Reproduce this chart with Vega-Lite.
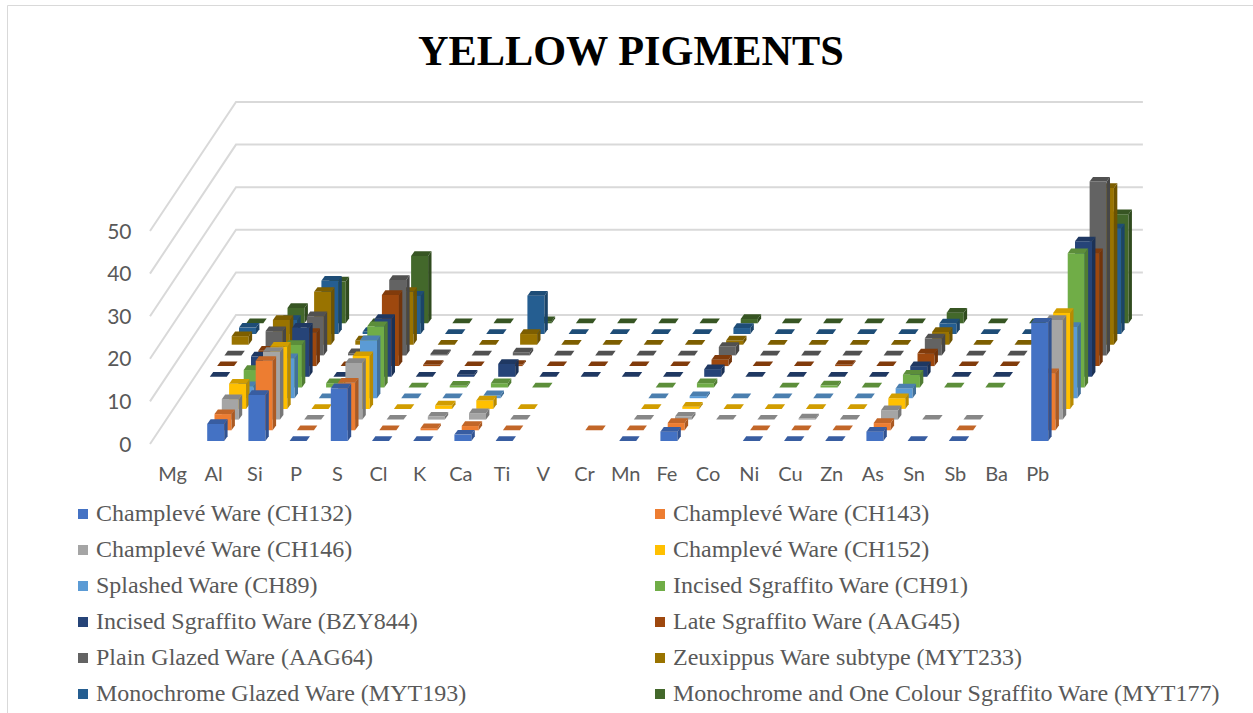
{"$schema":"https://vega.github.io/schema/vega-lite/v6.json","width":1250,"height":712,"padding":{"left":7,"top":5,"right":0,"bottom":0},"autosize":{"type":"none"},"background":"white","view":{"stroke":"#D9D9D9","strokeWidth":1},
"title":{"text":"YELLOW PIGMENTS","font":"Liberation Serif","fontSize":42.3,"fontWeight":"bold","color":"#000000","anchor":"start","dx":411,"dy":73},
"data":{"name":"bars"},
"datasets":{"bars":[
{"ware":"Monochrome and One Colour Sgraffito Ware (MYT177)","element":"Mg","value":0},{"ware":"Monochrome and One Colour Sgraffito Ware (MYT177)","element":"Al","value":3.6},{"ware":"Monochrome and One Colour Sgraffito Ware (MYT177)","element":"Si","value":9.8},{"ware":"Monochrome and One Colour Sgraffito Ware (MYT177)","element":"P","value":0},{"ware":"Monochrome and One Colour Sgraffito Ware (MYT177)","element":"S","value":15.8},{"ware":"Monochrome and One Colour Sgraffito Ware (MYT177)","element":"Cl","value":0},{"ware":"Monochrome and One Colour Sgraffito Ware (MYT177)","element":"K","value":0},{"ware":"Monochrome and One Colour Sgraffito Ware (MYT177)","element":"Ca","value":0.5},{"ware":"Monochrome and One Colour Sgraffito Ware (MYT177)","element":"Ti","value":0},{"ware":"Monochrome and One Colour Sgraffito Ware (MYT177)","element":"V","value":0},{"ware":"Monochrome and One Colour Sgraffito Ware (MYT177)","element":"Cr","value":0},{"ware":"Monochrome and One Colour Sgraffito Ware (MYT177)","element":"Mn","value":0},{"ware":"Monochrome and One Colour Sgraffito Ware (MYT177)","element":"Fe","value":1},{"ware":"Monochrome and One Colour Sgraffito Ware (MYT177)","element":"Co","value":0},{"ware":"Monochrome and One Colour Sgraffito Ware (MYT177)","element":"Ni","value":0},{"ware":"Monochrome and One Colour Sgraffito Ware (MYT177)","element":"Cu","value":0},{"ware":"Monochrome and One Colour Sgraffito Ware (MYT177)","element":"Zn","value":0},{"ware":"Monochrome and One Colour Sgraffito Ware (MYT177)","element":"As","value":2.5},{"ware":"Monochrome and One Colour Sgraffito Ware (MYT177)","element":"Sn","value":0},{"ware":"Monochrome and One Colour Sgraffito Ware (MYT177)","element":"Sb","value":0},{"ware":"Monochrome and One Colour Sgraffito Ware (MYT177)","element":"Pb","value":25.6},
{"ware":"Monochrome Glazed Ware (MYT193)","element":"Mg","value":1.5},{"ware":"Monochrome Glazed Ware (MYT193)","element":"Al","value":3.3},{"ware":"Monochrome Glazed Ware (MYT193)","element":"Si","value":12.5},{"ware":"Monochrome Glazed Ware (MYT193)","element":"P","value":0.5},{"ware":"Monochrome Glazed Ware (MYT193)","element":"S","value":9},{"ware":"Monochrome Glazed Ware (MYT193)","element":"Cl","value":0},{"ware":"Monochrome Glazed Ware (MYT193)","element":"K","value":0},{"ware":"Monochrome Glazed Ware (MYT193)","element":"Ca","value":9},{"ware":"Monochrome Glazed Ware (MYT193)","element":"Ti","value":0},{"ware":"Monochrome Glazed Ware (MYT193)","element":"V","value":0},{"ware":"Monochrome Glazed Ware (MYT193)","element":"Cr","value":0},{"ware":"Monochrome Glazed Ware (MYT193)","element":"Mn","value":0},{"ware":"Monochrome Glazed Ware (MYT193)","element":"Fe","value":1.4},{"ware":"Monochrome Glazed Ware (MYT193)","element":"Co","value":0},{"ware":"Monochrome Glazed Ware (MYT193)","element":"Ni","value":0},{"ware":"Monochrome Glazed Ware (MYT193)","element":"Cu","value":0},{"ware":"Monochrome Glazed Ware (MYT193)","element":"Zn","value":0},{"ware":"Monochrome Glazed Ware (MYT193)","element":"As","value":2.5},{"ware":"Monochrome Glazed Ware (MYT193)","element":"Sn","value":0},{"ware":"Monochrome Glazed Ware (MYT193)","element":"Sb","value":0},{"ware":"Monochrome Glazed Ware (MYT193)","element":"Pb","value":24.8},
{"ware":"Zeuxippus Ware subtype (MYT233)","element":"Mg","value":2},{"ware":"Zeuxippus Ware subtype (MYT233)","element":"Al","value":5.8},{"ware":"Zeuxippus Ware subtype (MYT233)","element":"Si","value":12.4},{"ware":"Zeuxippus Ware subtype (MYT233)","element":"P","value":1},{"ware":"Zeuxippus Ware subtype (MYT233)","element":"S","value":12.4},{"ware":"Zeuxippus Ware subtype (MYT233)","element":"Cl","value":0},{"ware":"Zeuxippus Ware subtype (MYT233)","element":"K","value":0},{"ware":"Zeuxippus Ware subtype (MYT233)","element":"Ca","value":2.5},{"ware":"Zeuxippus Ware subtype (MYT233)","element":"Ti","value":0},{"ware":"Zeuxippus Ware subtype (MYT233)","element":"V","value":0},{"ware":"Zeuxippus Ware subtype (MYT233)","element":"Cr","value":0},{"ware":"Zeuxippus Ware subtype (MYT233)","element":"Mn","value":0},{"ware":"Zeuxippus Ware subtype (MYT233)","element":"Fe","value":1},{"ware":"Zeuxippus Ware subtype (MYT233)","element":"Co","value":0},{"ware":"Zeuxippus Ware subtype (MYT233)","element":"Ni","value":0},{"ware":"Zeuxippus Ware subtype (MYT233)","element":"Cu","value":0},{"ware":"Zeuxippus Ware subtype (MYT233)","element":"Zn","value":0},{"ware":"Zeuxippus Ware subtype (MYT233)","element":"As","value":3},{"ware":"Zeuxippus Ware subtype (MYT233)","element":"Sn","value":0},{"ware":"Zeuxippus Ware subtype (MYT233)","element":"Sb","value":0},{"ware":"Zeuxippus Ware subtype (MYT233)","element":"Pb","value":36.8},
{"ware":"Plain Glazed Ware (AAG64)","element":"Mg","value":0},{"ware":"Plain Glazed Ware (AAG64)","element":"Al","value":5.7},{"ware":"Plain Glazed Ware (AAG64)","element":"Si","value":9.2},{"ware":"Plain Glazed Ware (AAG64)","element":"P","value":0.5},{"ware":"Plain Glazed Ware (AAG64)","element":"S","value":17.7},{"ware":"Plain Glazed Ware (AAG64)","element":"Cl","value":0.3},{"ware":"Plain Glazed Ware (AAG64)","element":"K","value":0},{"ware":"Plain Glazed Ware (AAG64)","element":"Ca","value":0.7},{"ware":"Plain Glazed Ware (AAG64)","element":"Ti","value":0},{"ware":"Plain Glazed Ware (AAG64)","element":"V","value":0},{"ware":"Plain Glazed Ware (AAG64)","element":"Cr","value":0},{"ware":"Plain Glazed Ware (AAG64)","element":"Mn","value":0},{"ware":"Plain Glazed Ware (AAG64)","element":"Fe","value":2},{"ware":"Plain Glazed Ware (AAG64)","element":"Co","value":0},{"ware":"Plain Glazed Ware (AAG64)","element":"Ni","value":0},{"ware":"Plain Glazed Ware (AAG64)","element":"Cu","value":0},{"ware":"Plain Glazed Ware (AAG64)","element":"Zn","value":0},{"ware":"Plain Glazed Ware (AAG64)","element":"As","value":4},{"ware":"Plain Glazed Ware (AAG64)","element":"Sn","value":0},{"ware":"Plain Glazed Ware (AAG64)","element":"Sb","value":0},{"ware":"Plain Glazed Ware (AAG64)","element":"Pb","value":40.8},
{"ware":"Late Sgraffito Ware (AAG45)","element":"Mg","value":0},{"ware":"Late Sgraffito Ware (AAG45)","element":"Al","value":3.6},{"ware":"Late Sgraffito Ware (AAG45)","element":"Si","value":7.8},{"ware":"Late Sgraffito Ware (AAG45)","element":"P","value":0},{"ware":"Late Sgraffito Ware (AAG45)","element":"S","value":16.7},{"ware":"Late Sgraffito Ware (AAG45)","element":"Cl","value":0.3},{"ware":"Late Sgraffito Ware (AAG45)","element":"K","value":0},{"ware":"Late Sgraffito Ware (AAG45)","element":"Ca","value":0.3},{"ware":"Late Sgraffito Ware (AAG45)","element":"Ti","value":0},{"ware":"Late Sgraffito Ware (AAG45)","element":"V","value":0},{"ware":"Late Sgraffito Ware (AAG45)","element":"Cr","value":0},{"ware":"Late Sgraffito Ware (AAG45)","element":"Mn","value":0},{"ware":"Late Sgraffito Ware (AAG45)","element":"Fe","value":1.5},{"ware":"Late Sgraffito Ware (AAG45)","element":"Co","value":0},{"ware":"Late Sgraffito Ware (AAG45)","element":"Ni","value":0},{"ware":"Late Sgraffito Ware (AAG45)","element":"Cu","value":0.3},{"ware":"Late Sgraffito Ware (AAG45)","element":"Zn","value":0},{"ware":"Late Sgraffito Ware (AAG45)","element":"As","value":3},{"ware":"Late Sgraffito Ware (AAG45)","element":"Sn","value":0},{"ware":"Late Sgraffito Ware (AAG45)","element":"Sb","value":0},{"ware":"Late Sgraffito Ware (AAG45)","element":"Pb","value":26.5},
{"ware":"Incised Sgraffito Ware (BZY844)","element":"Mg","value":0},{"ware":"Incised Sgraffito Ware (BZY844)","element":"Al","value":4.8},{"ware":"Incised Sgraffito Ware (BZY844)","element":"Si","value":11.5},{"ware":"Incised Sgraffito Ware (BZY844)","element":"P","value":0},{"ware":"Incised Sgraffito Ware (BZY844)","element":"S","value":13.6},{"ware":"Incised Sgraffito Ware (BZY844)","element":"Cl","value":0},{"ware":"Incised Sgraffito Ware (BZY844)","element":"K","value":0.5},{"ware":"Incised Sgraffito Ware (BZY844)","element":"Ca","value":3},{"ware":"Incised Sgraffito Ware (BZY844)","element":"Ti","value":0},{"ware":"Incised Sgraffito Ware (BZY844)","element":"V","value":0},{"ware":"Incised Sgraffito Ware (BZY844)","element":"Cr","value":0},{"ware":"Incised Sgraffito Ware (BZY844)","element":"Mn","value":0},{"ware":"Incised Sgraffito Ware (BZY844)","element":"Fe","value":1.8},{"ware":"Incised Sgraffito Ware (BZY844)","element":"Co","value":0},{"ware":"Incised Sgraffito Ware (BZY844)","element":"Ni","value":0},{"ware":"Incised Sgraffito Ware (BZY844)","element":"Cu","value":0},{"ware":"Incised Sgraffito Ware (BZY844)","element":"Zn","value":0},{"ware":"Incised Sgraffito Ware (BZY844)","element":"As","value":2.5},{"ware":"Incised Sgraffito Ware (BZY844)","element":"Sn","value":0},{"ware":"Incised Sgraffito Ware (BZY844)","element":"Sb","value":0},{"ware":"Incised Sgraffito Ware (BZY844)","element":"Pb","value":31.8},
{"ware":"Incised Sgraffito Ware (CH91)","element":"Al","value":4.1},{"ware":"Incised Sgraffito Ware (CH91)","element":"Si","value":10},{"ware":"Incised Sgraffito Ware (CH91)","element":"P","value":1},{"ware":"Incised Sgraffito Ware (CH91)","element":"S","value":14.4},{"ware":"Incised Sgraffito Ware (CH91)","element":"Cl","value":0},{"ware":"Incised Sgraffito Ware (CH91)","element":"K","value":0.4},{"ware":"Incised Sgraffito Ware (CH91)","element":"Ca","value":1},{"ware":"Incised Sgraffito Ware (CH91)","element":"Ti","value":0},{"ware":"Incised Sgraffito Ware (CH91)","element":"Mn","value":0},{"ware":"Incised Sgraffito Ware (CH91)","element":"Fe","value":1},{"ware":"Incised Sgraffito Ware (CH91)","element":"Ni","value":0},{"ware":"Incised Sgraffito Ware (CH91)","element":"Cu","value":0.5},{"ware":"Incised Sgraffito Ware (CH91)","element":"Zn","value":0},{"ware":"Incised Sgraffito Ware (CH91)","element":"As","value":3},{"ware":"Incised Sgraffito Ware (CH91)","element":"Sn","value":0},{"ware":"Incised Sgraffito Ware (CH91)","element":"Sb","value":0},{"ware":"Incised Sgraffito Ware (CH91)","element":"Pb","value":31.5},
{"ware":"Splashed Ware (CH89)","element":"Al","value":2.8},{"ware":"Splashed Ware (CH89)","element":"Si","value":9.4},{"ware":"Splashed Ware (CH89)","element":"P","value":0},{"ware":"Splashed Ware (CH89)","element":"S","value":13.6},{"ware":"Splashed Ware (CH89)","element":"Cl","value":0},{"ware":"Splashed Ware (CH89)","element":"K","value":0},{"ware":"Splashed Ware (CH89)","element":"Ca","value":0.7},{"ware":"Splashed Ware (CH89)","element":"Mn","value":0},{"ware":"Splashed Ware (CH89)","element":"Fe","value":0.5},{"ware":"Splashed Ware (CH89)","element":"Co","value":0},{"ware":"Splashed Ware (CH89)","element":"Ni","value":0},{"ware":"Splashed Ware (CH89)","element":"Cu","value":0},{"ware":"Splashed Ware (CH89)","element":"Zn","value":0},{"ware":"Splashed Ware (CH89)","element":"As","value":2.3},{"ware":"Splashed Ware (CH89)","element":"Pb","value":16.7},
{"ware":"Champlevé Ware (CH152)","element":"Al","value":5.9},{"ware":"Champlevé Ware (CH152)","element":"Si","value":14.6},{"ware":"Champlevé Ware (CH152)","element":"P","value":0},{"ware":"Champlevé Ware (CH152)","element":"S","value":12.4},{"ware":"Champlevé Ware (CH152)","element":"Cl","value":0},{"ware":"Champlevé Ware (CH152)","element":"K","value":0.8},{"ware":"Champlevé Ware (CH152)","element":"Ca","value":2},{"ware":"Champlevé Ware (CH152)","element":"Ti","value":0},{"ware":"Champlevé Ware (CH152)","element":"Mn","value":0},{"ware":"Champlevé Ware (CH152)","element":"Fe","value":0.5},{"ware":"Champlevé Ware (CH152)","element":"Co","value":0},{"ware":"Champlevé Ware (CH152)","element":"Ni","value":0},{"ware":"Champlevé Ware (CH152)","element":"Cu","value":0},{"ware":"Champlevé Ware (CH152)","element":"Zn","value":0},{"ware":"Champlevé Ware (CH152)","element":"As","value":2.5},{"ware":"Champlevé Ware (CH152)","element":"Pb","value":22.5},
{"ware":"Champlevé Ware (CH146)","element":"Al","value":4.8},{"ware":"Champlevé Ware (CH146)","element":"Si","value":15.9},{"ware":"Champlevé Ware (CH146)","element":"P","value":0},{"ware":"Champlevé Ware (CH146)","element":"S","value":13.3},{"ware":"Champlevé Ware (CH146)","element":"Cl","value":0},{"ware":"Champlevé Ware (CH146)","element":"K","value":0.7},{"ware":"Champlevé Ware (CH146)","element":"Ca","value":1.5},{"ware":"Champlevé Ware (CH146)","element":"Ti","value":0},{"ware":"Champlevé Ware (CH146)","element":"Mn","value":0},{"ware":"Champlevé Ware (CH146)","element":"Fe","value":0.7},{"ware":"Champlevé Ware (CH146)","element":"Co","value":0},{"ware":"Champlevé Ware (CH146)","element":"Ni","value":0},{"ware":"Champlevé Ware (CH146)","element":"Cu","value":0.3},{"ware":"Champlevé Ware (CH146)","element":"Zn","value":0},{"ware":"Champlevé Ware (CH146)","element":"As","value":2.2},{"ware":"Champlevé Ware (CH146)","element":"Sn","value":0},{"ware":"Champlevé Ware (CH146)","element":"Sb","value":0},{"ware":"Champlevé Ware (CH146)","element":"Pb","value":23.4},
{"ware":"Champlevé Ware (CH143)","element":"Al","value":3.8},{"ware":"Champlevé Ware (CH143)","element":"Si","value":16.3},{"ware":"Champlevé Ware (CH143)","element":"P","value":0},{"ware":"Champlevé Ware (CH143)","element":"S","value":11.2},{"ware":"Champlevé Ware (CH143)","element":"Cl","value":0},{"ware":"Champlevé Ware (CH143)","element":"K","value":0.5},{"ware":"Champlevé Ware (CH143)","element":"Ca","value":1},{"ware":"Champlevé Ware (CH143)","element":"Ti","value":0},{"ware":"Champlevé Ware (CH143)","element":"Cr","value":0},{"ware":"Champlevé Ware (CH143)","element":"Mn","value":0},{"ware":"Champlevé Ware (CH143)","element":"Fe","value":1.7},{"ware":"Champlevé Ware (CH143)","element":"Ni","value":0},{"ware":"Champlevé Ware (CH143)","element":"Cu","value":0},{"ware":"Champlevé Ware (CH143)","element":"Zn","value":0},{"ware":"Champlevé Ware (CH143)","element":"As","value":1.7},{"ware":"Champlevé Ware (CH143)","element":"Sb","value":0},{"ware":"Champlevé Ware (CH143)","element":"Pb","value":13.4},
{"ware":"Champlevé Ware  (CH132)","element":"Al","value":4},{"ware":"Champlevé Ware  (CH132)","element":"Si","value":10.8},{"ware":"Champlevé Ware  (CH132)","element":"P","value":0},{"ware":"Champlevé Ware  (CH132)","element":"S","value":12.4},{"ware":"Champlevé Ware  (CH132)","element":"Cl","value":0},{"ware":"Champlevé Ware  (CH132)","element":"K","value":0},{"ware":"Champlevé Ware  (CH132)","element":"Ca","value":1.5},{"ware":"Champlevé Ware  (CH132)","element":"Ti","value":0},{"ware":"Champlevé Ware  (CH132)","element":"Mn","value":0},{"ware":"Champlevé Ware  (CH132)","element":"Fe","value":2.2},{"ware":"Champlevé Ware  (CH132)","element":"Ni","value":0},{"ware":"Champlevé Ware  (CH132)","element":"Cu","value":0},{"ware":"Champlevé Ware  (CH132)","element":"Zn","value":0},{"ware":"Champlevé Ware  (CH132)","element":"As","value":2.2},{"ware":"Champlevé Ware  (CH132)","element":"Sn","value":0},{"ware":"Champlevé Ware  (CH132)","element":"Sb","value":0},{"ware":"Champlevé Ware  (CH132)","element":"Pb","value":27.8}
],"grid":[{"level":0},{"level":10},{"level":20},{"level":30},{"level":40},{"level":50}]},
"encoding":{"x":{"field":"sx","type":"quantitative","scale":{"domain":[-3.859,26.48],"nice":false,"zero":false},"axis":{"title":null,"grid":false,"domain":false,"ticks":false,"values":[0,1,2,3,4,5,6,7,8,9,10,11,12,13,14,15,16,17,18,19,20,21],"labelExpr":"['Mg','Al','Si','P','S','Cl','K','Ca','Ti','V','Cr','Mn','Fe','Co','Ni','Cu','Zn','As','Sn','Sb','Ba','Pb'][datum.value]","labelFont":"Lato","labelFontSize":20,"labelColor":"#595959","labelOffset":6,"labelPadding":0,"labelOverlap":false,"labelFlush":false,"offset":-253}},
"y":{"field":"sy","type":"quantitative","scale":{"domain":[-64.79,102.35],"nice":false,"zero":false},"axis":{"title":null,"grid":false,"domain":false,"ticks":false,"values":[0,10,20,30,40,50],"labelFont":"Lato","labelFontSize":21,"labelColor":"#595959","labelOffset":4,"labelPadding":0,"offset":-124}}},
"layer":[
{"data":{"name":"grid"},"transform":[{"calculate":"[0,1,2]","as":"corner"},{"flatten":["corner"]},{"calculate":"[-0.388,1.699,23.71][datum.corner]","as":"sx"},{"calculate":"datum.level+[-0.7,29.58,29.58][datum.corner]","as":"sy"}],
"mark":{"type":"line","stroke":"#D9D9D9","strokeWidth":2},
"encoding":{"detail":{"field":"level"},"order":{"field":"corner"}}},
{"transform":[
{"calculate":"indexof(['Mg','Al','Si','P','S','Cl','K','Ca','Ti','V','Cr','Mn','Fe','Co','Ni','Cu','Zn','As','Sn','Sb','Ba','Pb'],datum.element)","as":"i"},
{"calculate":"indexof(['Champlevé Ware  (CH132)','Champlevé Ware (CH143)','Champlevé Ware (CH146)','Champlevé Ware (CH152)','Splashed Ware (CH89)','Incised Sgraffito Ware (CH91)','Incised Sgraffito Ware (BZY844)','Late Sgraffito Ware (AAG45)','Plain Glazed Ware (AAG64)','Zeuxippus Ware subtype (MYT233)','Monochrome Glazed Ware (MYT193)','Monochrome and One Colour Sgraffito Ware (MYT177)'],datum.ware)","as":"j"},
{"calculate":"[0,1,2]","as":"face"},{"flatten":["face"]},
{"calculate":"[0,1,2,3]","as":"vertex"},{"flatten":["vertex"]},
{"calculate":"datum.i+datum.j*0.1772+0.4126*[[0,1,1,0],[1,1.2,1.2,1],[0,1,1.2,0.2]][datum.face][datum.vertex]","as":"sx"},
{"calculate":"datum.j*2.512+datum.value*[[0,0,1,1],[0,0,1,1],[1,1,1,1]][datum.face][datum.vertex]+1.1*[[0,0,0,0],[0,1,1,0],[0,0,1,1]][datum.face][datum.vertex]","as":"sy"},
{"calculate":"'b'+datum.j+'_'+datum.i+'_'+datum.face","as":"bar"},
{"calculate":"datum.j+'-'+datum.face","as":"shade"}],
"mark":{"type":"line","strokeWidth":0,"filled":true},
"encoding":{"detail":{"field":"bar"},"order":{"field":"vertex"},
"fill":{"field":"shade","type":"nominal","legend":null,"scale":{"domain":["0-0","0-1","0-2","1-0","1-1","1-2","2-0","2-1","2-2","3-0","3-1","3-2","4-0","4-1","4-2","5-0","5-1","5-2","6-0","6-1","6-2","7-0","7-1","7-2","8-0","8-1","8-2","9-0","9-1","9-2","10-0","10-1","10-2","11-0","11-1","11-2"],"range":["#4472C4","#315290","#385DA1","#ED7D31","#AB5A23","#C26628","#A5A5A5","#777777","#878787","#FFC000","#B88A00","#D19D00","#5B9BD5","#427099","#4B7FAF","#70AD47","#507C33","#5C8E3A","#264478","#1B3156","#1F3862","#9E480E","#72340A","#813B0B","#636363","#474747","#515151","#997300","#6E5300","#7D5E00","#255E91","#1B4468","#1E4D77","#43682B","#304B1F","#375523"]}}}},
{"transform":[{"calculate":"0","as":"sx"},{"calculate":"datum.value","as":"sy"}],"mark":{"type":"square","opacity":0,"size":100},
"encoding":{"color":{"field":"ware","type":"nominal","scale":{"domain":["Champlevé Ware  (CH132)","Champlevé Ware (CH143)","Champlevé Ware (CH146)","Champlevé Ware (CH152)","Splashed Ware (CH89)","Incised Sgraffito Ware (CH91)","Incised Sgraffito Ware (BZY844)","Late Sgraffito Ware (AAG45)","Plain Glazed Ware (AAG64)","Zeuxippus Ware subtype (MYT233)","Monochrome Glazed Ware (MYT193)","Monochrome and One Colour Sgraffito Ware (MYT177)"],"range":["#4472C4","#ED7D31","#A5A5A5","#FFC000","#5B9BD5","#70AD47","#264478","#9E480E","#636363","#997300","#255E91","#43682B"]},
"legend":{"title":null,"orient":"none","legendX":64,"legendY":497,"direction":"horizontal","columns":2,"columnPadding":181,"rowPadding":12,"symbolType":"square","symbolSize":100,"symbolOpacity":1,"symbolStrokeWidth":0,"labelFont":"Liberation Serif","labelFontSize":24,"labelColor":"#595959","labelLimit":600,"labelOffset":1,"gridAlign":"each"}}}}
]}
